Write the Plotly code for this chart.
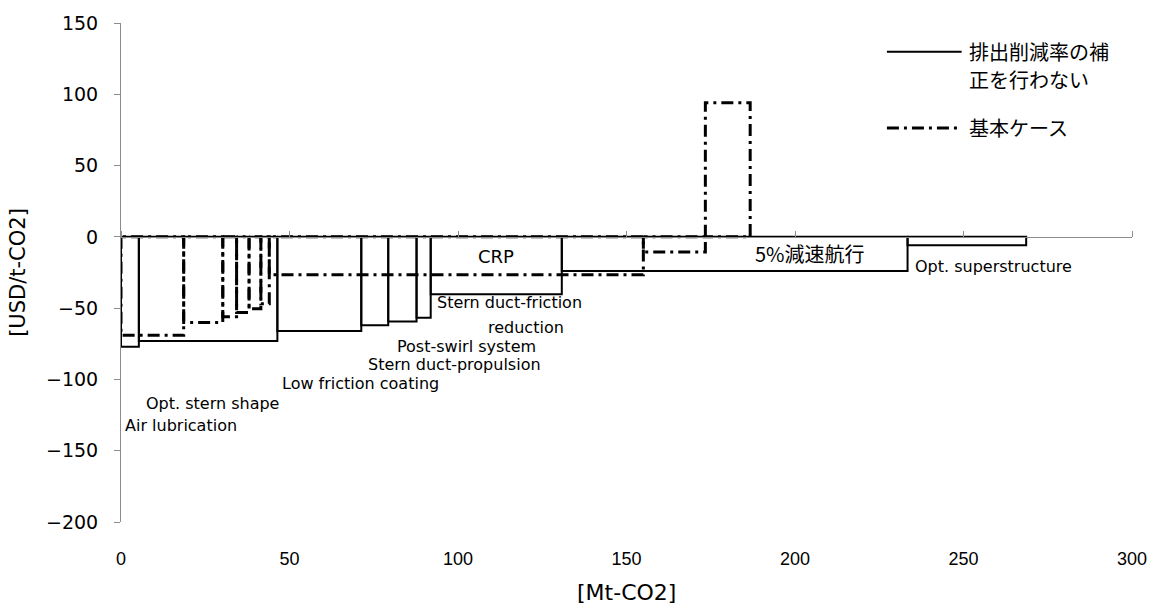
import plotly.graph_objects as go

# Abatement measures, case without correction of the reduction rate (solid)
measures = ["Air lubrication", "Opt. stern shape", "Low friction coating",
            "Stern duct-propulsion", "Post-swirl system",
            "Stern duct-friction reduction", "CRP", "5%減速航行",
            "Opt. superstructure"]
reduction_nocorr = [5.3, 41.1, 24.9, 8.0, 8.4, 4.2, 38.9, 102.6, 35.2]   # Mt-CO2
cost_nocorr = [-77, -73, -66, -62, -59.3, -56.7, -40.3, -24.0, -5.8]     # USD/t-CO2

# Base case (dash-dot)
reduction_base = [18.6, 11.6, 4.1, 3.7, 3.5, 2.5, 111.0, 18.4, 13.3]
cost_base = [-69, -60, -56, -53, -50.5, -47, -26.5, -10.6, 94]

x_ticks = [0, 50, 100, 150, 200, 250, 300]
y_ticks = [150, 100, 50, 0, -50, -100, -150, -200]

legend_nocorr = ["排出削減率の補", "正を行わない"]
legend_base = "基本ケース"


def box_path(widths, costs):
    """Outline of each measure as a rectangle from 0 to its cost."""
    xs, ys = [], []
    start = 0.0
    for w, c in zip(widths, costs):
        end = start + w
        xs += [start, start, end, end, start, None]
        ys += [0, c, c, 0, 0, None]
        start = end
    return xs, ys


LATIN = "DejaVu Sans, Liberation Sans, sans-serif"
TICKX = "Liberation Sans, Arial, sans-serif"
JP = "Noto Sans CJK JP, sans-serif"
GRAY = "#8c8c8c"
DASHDOT = "12px,5px,3px,5px"

fig = go.Figure()

xs, ys = box_path(reduction_nocorr, cost_nocorr)
fig.add_trace(go.Scatter(x=xs, y=ys, mode="lines", showlegend=False,
                         line=dict(color="black", width=2), hoverinfo="skip"))

xb, yb = box_path(reduction_base, cost_base)
fig.add_trace(go.Scatter(x=xb, y=yb, mode="lines", showlegend=False, xaxis="x2",
                         line=dict(color="black", width=3, dash=DASHDOT),
                         hoverinfo="skip"))

# Measure labels (left-anchored near the start of each block)
label_pos = [
    ("Air lubrication", 0.9, -132),
    ("Opt. stern shape", 7.2, -117),
    ("Low friction coating", 47.6, -102.8),
    ("Stern duct-propulsion", 73.0, -89.6),
    ("Post-swirl system", 81.6, -76.8),
    ("Stern duct-friction", 93.4, -45.8),
    ("reduction", 108.5, -63.6),
    ("Opt. superstructure", 235.2, -20.8),
]
annotations = []
for text, lx, ly in label_pos:
    annotations.append(dict(x=lx, y=ly, xref="x", yref="y", text=text,
                            showarrow=False, xanchor="left", yanchor="middle",
                            borderpad=0,
                            font=dict(family=LATIN, size=16, color="black")))
annotations.append(dict(x=111.4, y=-13.9, xref="x", yref="y", text="CRP",
                        showarrow=False, xanchor="center", yanchor="middle",
                        font=dict(family=LATIN, size=18, color="black")))
annotations.append(dict(x=187.4, y=-11.8, xref="x", yref="y", text=measures[7],
                        showarrow=False, xanchor="left", yanchor="middle",
                        font=dict(family=JP, size=20, color="black")))

# Axis titles
annotations.append(dict(x=0.5, y=-0.141, xref="paper", yref="paper",
                        text="[Mt-CO2]", showarrow=False, xanchor="center",
                        yanchor="middle", font=dict(family=LATIN, size=22, color="black")))
annotations.append(dict(x=-0.1025, y=0.5, xref="paper", yref="paper",
                        text="[USD/t-CO2]", showarrow=False, textangle=-90,
                        xanchor="center", yanchor="middle",
                        font=dict(family=LATIN, size=21, color="black")))

# Legend
annotations.append(dict(x=0.8365, y=0.9425, xref="paper", yref="paper",
                        text=legend_nocorr[0], showarrow=False, xanchor="left",
                        yanchor="middle", font=dict(family=JP, size=20, color="black")))
annotations.append(dict(x=0.8365, y=0.8869, xref="paper", yref="paper",
                        text=legend_nocorr[1], showarrow=False, xanchor="left",
                        yanchor="middle", font=dict(family=JP, size=20, color="black")))
annotations.append(dict(x=0.8365, y=0.7897, xref="paper", yref="paper",
                        text=legend_base, showarrow=False, xanchor="left",
                        yanchor="middle", font=dict(family=JP, size=20, color="black")))

shapes = [
    dict(type="line", xref="paper", yref="paper", x0=0.7576, x1=0.8315,
         y0=0.9425, y1=0.9425, line=dict(color="black", width=2)),
    dict(type="line", xref="paper", yref="paper", x0=0.7576, x1=0.8315,
         y0=0.7897, y1=0.7897, line=dict(color="black", width=3, dash=DASHDOT)),
]

fig.update_layout(
    width=1159, height=610,
    margin=dict(l=121, r=23, t=18, b=88),
    plot_bgcolor="white", paper_bgcolor="white",
    showlegend=False,
    annotations=annotations,
    shapes=shapes,
    xaxis=dict(range=[0, 300], tickvals=x_ticks, ticktext=[str(v) for v in x_ticks],
               showgrid=False, zeroline=False, showline=False, ticks="",
               ticklabelstandoff=24,
               tickfont=dict(family=TICKX, size=18, color="black")),
    xaxis2=dict(range=[0, 300], overlaying="x", anchor="free", position=200 / 350,
                side="top", tickvals=x_ticks, showticklabels=False, ticks="outside",
                ticklen=6, tickcolor=GRAY, showline=True, linecolor=GRAY, linewidth=1,
                showgrid=False, zeroline=False),
    yaxis=dict(range=[-200, 150], tickvals=y_ticks, showgrid=False, zeroline=False,
               showline=True, linecolor=GRAY, linewidth=1, ticks="outside",
               ticklen=6, tickcolor=GRAY, ticklabelstandoff=12,
               tickfont=dict(family=LATIN, size=19, color="black")),
)

fig.write_html("out.html")
